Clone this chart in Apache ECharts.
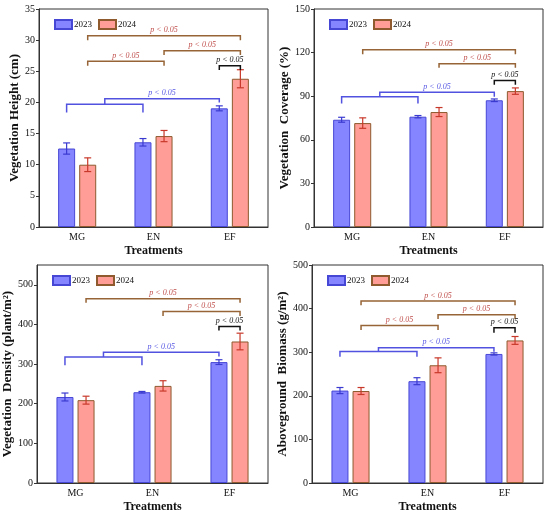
<!DOCTYPE html>
<html>
<head>
<meta charset="utf-8">
<script src="https://cdn.jsdelivr.net/npm/echarts@6/dist/echarts.min.js"></script>
<style>
  html, body { margin: 0; padding: 0; background: #fff; }
  #main { width: 550px; height: 514px; }
</style>
</head>
<body>
<div id="main"></div>
<script>
var categories = ['MG', 'EN', 'EF'];
var years = ['2023', '2024'];

var heightMean2023 = [12.6, 13.6, 19.05];
var heightErr2023 = [0.9, 0.6, 0.4];
var heightMean2024 = [10.0, 14.6, 23.8];
var heightErr2024 = [1.1, 0.9, 1.45];

var coverMean2023 = [73.8, 75.9, 87.2];
var coverErr2023 = [1.7, 0.8, 0.9];
var coverMean2024 = [71.5, 79.1, 93.5];
var coverErr2024 = [3.6, 3.1, 2.2];

var densityMean2023 = [217, 229, 305];
var densityErr2023 = [10, 2, 6];
var densityMean2024 = [209, 245, 357];
var densityErr2024 = [10, 13, 21];

var biomassMean2023 = [212, 233.5, 296];
var biomassErr2023 = [7, 8, 2.5];
var biomassMean2024 = [211, 270, 327];
var biomassErr2024 = [8, 17, 9];

// brackets: [leftA, leftB, right, yLine, yLeftEnd, yRightEnd, kind, hasLabel]
// positions: cat*2 + (0 = 2023 bar, 1 = 2024 bar); left x = mean of leftA/leftB
var heightBrackets = [
  [0, 0, 2, 19.7, 18.4, 18.4, 0, 0],
  [0, 2, 4, 20.6, 19.7, 20.0, 0, 1],
  [1, 1, 3, 26.6, 25.9, 25.9, 1, 1],
  [3, 3, 5, 28.3, 27.6, 27.6, 1, 1],
  [1, 1, 5, 30.7, 30.0, 30.0, 1, 1],
  [4, 4, 5, 25.9, 25.2, 25.2, 2, 1]
];
var coverBrackets = [
  [0, 0, 2, 89.7, 84.9, 84.9, 0, 0],
  [0, 2, 4, 92.7, 89.7, 89.7, 0, 1],
  [3, 3, 5, 112.3, 109.5, 109.5, 1, 1],
  [1, 1, 5, 121.9, 118.9, 118.9, 1, 1],
  [4, 4, 5, 100.8, 97.8, 97.8, 2, 1]
];
var densityBrackets = [
  [0, 0, 2, 318, 297, 297, 0, 0],
  [0, 2, 4, 330, 318, 319, 0, 1],
  [3, 3, 5, 432.5, 421.6, 421.6, 1, 1],
  [1, 1, 5, 465, 455, 455, 1, 1],
  [4, 4, 5, 394.6, 385, 385, 2, 1]
];
var biomassBrackets = [
  [0, 0, 2, 301.7, 289.4, 289.4, 0, 0],
  [0, 2, 4, 310, 301.7, 301, 0, 1],
  [1, 1, 3, 361.4, 350.7, 350.7, 1, 1],
  [3, 3, 5, 386, 376, 376, 1, 1],
  [1, 1, 5, 417.3, 407.4, 407.4, 1, 1],
  [4, 4, 5, 356, 344.6, 344.6, 2, 1]
];

var sigLabel = 'p < 0.05';
var serif = '"Liberation Serif", "DejaVu Serif", serif';
var barW = 17;
var gapRatio = 0.24;
var barOff = barW * (1 + gapRatio) / 2;

var fill = ['#8585ff', '#ff9d96'];
var edge = ['#4747d6', '#8e5a2e'];
var errColor = ['#3a3ad0', '#c8382a'];
var lineColor = ['#5252e0', '#966436', '#111'];
var textColor = ['#5858e4', '#c0504d', '#111'];

var panels = [
  { name: 'Vegetation Height (cm)', max: 35, interval: 5, grid: [39, 9, 229, 218], nameGap: 17,
    m: [heightMean2023, heightMean2024], e: [heightErr2023, heightErr2024], br: heightBrackets },
  { name: 'Vegetation  Coverage (%)', max: 150, interval: 30, grid: [314, 9, 229, 218], nameGap: 20,
    m: [coverMean2023, coverMean2024], e: [coverErr2023, coverErr2024], br: coverBrackets },
  { name: 'Vegetation  Density (plant/m²)', max: 550, interval: 100, grid: [37, 265, 231, 219], nameGap: 22,
    m: [densityMean2023, densityMean2024], e: [densityErr2023, densityErr2024], br: densityBrackets },
  { name: 'Aboveground  Biomass (g/m²)', max: 500, interval: 100, grid: [312, 265, 231, 219], nameGap: 22,
    m: [biomassMean2023, biomassMean2024], e: [biomassErr2023, biomassErr2024], br: biomassBrackets }
];

function posX(api, p) {
  var cat = Math.floor(p / 2);
  var side = p % 2 ? 1 : -1;
  return api.coord([cat, 0])[0] + side * barOff;
}

function errRender(side) {
  return function (params, api) {
    var cat = api.value(0);
    var lo = api.coord([cat, api.value(1)]);
    var hi = api.coord([cat, api.value(2)]);
    var x = lo[0] + (side ? 1 : -1) * barOff;
    var cap = 3.5;
    var st = { stroke: errColor[side], lineWidth: 1.2 };
    return {
      type: 'group',
      children: [
        { type: 'line', shape: { x1: x, y1: lo[1], x2: x, y2: hi[1] }, style: st },
        { type: 'line', shape: { x1: x - cap, y1: lo[1], x2: x + cap, y2: lo[1] }, style: st },
        { type: 'line', shape: { x1: x - cap, y1: hi[1], x2: x + cap, y2: hi[1] }, style: st }
      ]
    };
  };
}

function bracketRender(params, api) {
  var xl = (posX(api, api.value(0)) + posX(api, api.value(1))) / 2;
  var xr = posX(api, api.value(2));
  var y = api.coord([0, api.value(3)])[1];
  var yl = api.coord([0, api.value(4)])[1];
  var yr = api.coord([0, api.value(5)])[1];
  var kind = api.value(6);
  var kids = [{
    type: 'polyline',
    shape: { points: [[xl, yl], [xl, y], [xr, y], [xr, yr]] },
    style: { stroke: lineColor[kind], lineWidth: 1.5, fill: null }
  }];
  if (api.value(7)) {
    kids.push({
      type: 'text',
      style: {
        x: (xl + xr) / 2, y: y - 1.5, text: sigLabel,
        align: 'center', verticalAlign: 'bottom',
        fill: textColor[kind], font: 'italic 8px ' + serif
      }
    });
  }
  return { type: 'group', children: kids };
}

var grids = [], xAxes = [], yAxes = [], series = [], legends = [];
panels.forEach(function (pn, i) {
  grids.push({ left: pn.grid[0], top: pn.grid[1], width: pn.grid[2], height: pn.grid[3],
    show: true, borderColor: '#333', borderWidth: 1 });
  xAxes.push({
    type: 'category', gridIndex: i, data: categories,
    name: 'Treatments', nameLocation: 'middle', nameGap: 18,
    nameTextStyle: { fontFamily: serif, fontWeight: 'bold', fontSize: 12, color: '#111' },
    axisLine: { lineStyle: { color: '#333' } },
    axisTick: { show: false },
    axisLabel: { fontFamily: serif, fontSize: 10, color: '#111', margin: 5 }
  });
  yAxes.push({
    type: 'value', gridIndex: i, min: 0, max: pn.max, interval: pn.interval,
    name: pn.name, nameLocation: 'middle', nameGap: pn.nameGap,
    nameTextStyle: { fontFamily: serif, fontWeight: 'bold', fontSize: 13, color: '#111' },
    axisLine: { show: true, lineStyle: { color: '#333' } },
    axisTick: { show: true, length: 3, lineStyle: { color: '#333' } },
    splitLine: { show: false },
    axisLabel: { fontFamily: serif, fontSize: 10, color: '#111', margin: 4, showMaxLabel: pn.max % pn.interval === 0 }
  });
  [0, 1].forEach(function (s) {
    series.push({
      type: 'bar', name: years[s], xAxisIndex: i, yAxisIndex: i,
      data: pn.m[s], barWidth: barW, barGap: (gapRatio * 100) + '%',
      itemStyle: { color: fill[s], borderColor: edge[s], borderWidth: 1 }
    });
  });
  [0, 1].forEach(function (s) {
    series.push({
      type: 'custom', xAxisIndex: i, yAxisIndex: i, z: 5,
      renderItem: errRender(s),
      encode: { x: 0, y: [1, 2] },
      data: pn.m[s].map(function (v, k) { return [k, v - pn.e[s][k], v + pn.e[s][k]]; })
    });
  });
  series.push({
    type: 'custom', xAxisIndex: i, yAxisIndex: i, z: 6,
    renderItem: bracketRender,
    encode: { x: 2, y: 3 },
    data: pn.br
  });
  legends.push({
    left: pn.grid[0] + 15, top: pn.grid[1] + 10, padding: 0,
    icon: 'rect', itemWidth: 17, itemHeight: 9, itemGap: 6,
    textStyle: { fontFamily: serif, fontSize: 9, color: '#111', padding: [0, 0, 0, -3] },
    data: years.map(function (y) { return { name: y }; }),
    selectedMode: false
  });
});

var chart = echarts.init(document.getElementById('main'));
chart.setOption({
  animation: false,
  backgroundColor: '#fff',
  grid: grids,
  xAxis: xAxes,
  yAxis: yAxes,
  legend: legends,
  series: series
});
</script>
</body>
</html>
